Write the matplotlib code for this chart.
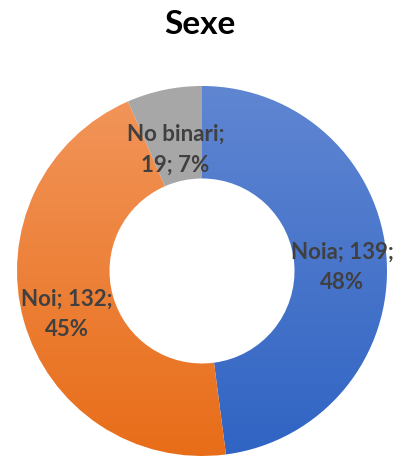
import numpy as np
import matplotlib
matplotlib.use("Agg")
import matplotlib.pyplot as plt
from matplotlib.colors import LinearSegmentedColormap

categories = ["Noia", "Noi", "No binari"]
counts = [139, 132, 19]
percents = ["48%", "45%", "7%"]
labels = ["Noia; 139;\n48%", "Noi; 132;\n45%", "No binari;\n19; 7%"]

top_colors = ["#6086d2", "#f2965c", "#a8a8a8"]
bottom_colors = ["#3064c3", "#e86d18", "#a3a3a3"]

plt.rcParams['font.family'] = ['Lato', 'DejaVu Sans']

fig = plt.figure(figsize=(4.0, 4.62), dpi=100)
ax = fig.add_axes([0.505 - 0.4625, 0.4134 - 0.4004, 0.925, 0.8009])

wedges, texts = ax.pie(counts, startangle=90, counterclock=False, radius=1.0,
                       wedgeprops=dict(width=0.5, linewidth=0))

# Excel-like vertical gradient inside each wedge
grad = np.linspace(0, 1, 256).reshape(-1, 1)
for w, c1, c2 in zip(wedges, top_colors, bottom_colors):
    w.set_facecolor("none")
    cmap = LinearSegmentedColormap.from_list("g", [c1, c2])
    im = ax.imshow(grad, cmap=cmap, extent=[-1, 1, -1, 1], origin="upper",
                   aspect="auto", zorder=1)
    im.set_clip_path(w)

# labels in the middle of the ring
total = sum(counts)
start = 90.0
for i, (lab, n) in enumerate(zip(labels, counts)):
    frac = n / total
    mid = np.deg2rad(start - frac * 360 / 2)
    start -= frac * 360
    r = 0.70 if i == 2 else 0.76
    ax.text(r * np.cos(mid), r * np.sin(mid) - 0.03, lab, ha="center", va="center",
            fontsize=16, fontweight="bold", color="#404040", zorder=3,
            linespacing=1.55)

ax.set_xlim(-1, 1)
ax.set_ylim(-1, 1)
ax.axis("off")

fig.text(0.5, 1 - 24 / 462, "Sexe", ha="center", va="center",
         fontsize=24, fontweight="bold", color="black")

fig.savefig("out.png", dpi=100)
